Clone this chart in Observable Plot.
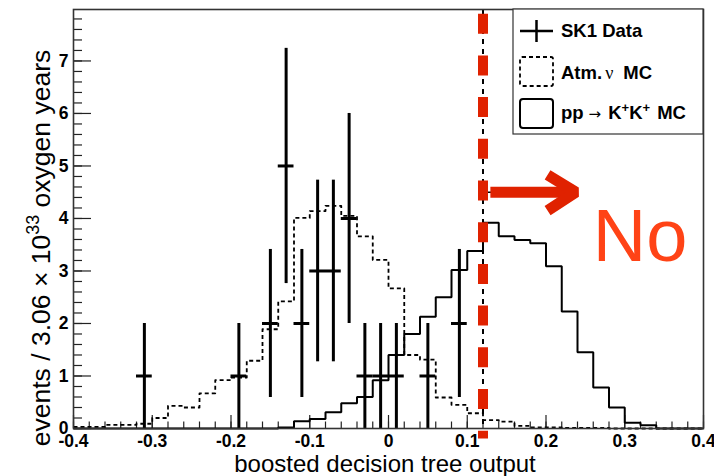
<!DOCTYPE html>
<html>
<head>
<meta charset="utf-8">
<script src="https://cdn.jsdelivr.net/npm/d3@7"></script>
<script src="https://cdn.jsdelivr.net/npm/@observablehq/plot@0.6"></script>
<style>
  body { margin: 0; background: #fff; }
  #chart svg { display: block; }
</style>
</head>
<body>
<div id="chart"></div>
<script>
// ---- binning of the histograms (40 bins of 0.02 from -0.4 to 0.4)
const binLow = -0.4;
const binWidth = 0.02;

// Atm. nu MC (dashed histogram), one value per bin
const atmMC = [0.03, 0.03, 0.07, 0.07, 0.09, 0.20, 0.43, 0.40, 0.67, 0.92,
               0.97, 1.29, 1.89, 2.42, 4.01, 4.14, 4.24, 4.05, 3.66, 3.21,
               2.67, 1.40, 1.31, 0.59, 0.45, 0.29, 0.16, 0.13, 0.05, 0.02,
               0.02, 0.01, 0.01, 0.01, 0.0, 0.0, 0.0, 0.0, 0.0, 0.0];

// pp -> K+K+ MC (solid histogram), one value per bin
const ppKKMC = [0, 0, 0, 0, 0, 0, 0, 0, 0, 0,
                0, 0, 0, 0.02, 0.14, 0.18, 0.31, 0.48, 0.60, 0.92,
                1.40, 1.80, 2.13, 2.50, 3.02, 3.38, 3.92, 3.66, 3.59, 3.53,
                3.09, 2.23, 1.45, 0.78, 0.40, 0.11, 0.06, 0, 0, 0];

// SK1 data points
const dataX   = [-0.31, -0.19, -0.15, -0.13, -0.11, -0.09, -0.07, -0.05, -0.03, -0.01, 0.01, 0.05, 0.09];
const dataY   = [1, 1, 2, 5, 2, 3, 3, 4, 1, 1, 1, 1, 2];
const dataErr = [1, 1, 1.41, 2.24, 1.41, 1.73, 1.73, 2, 1, 1, 1, 1, 1.41];

// axes
const xTicks = [-0.4, -0.3, -0.2, -0.1, 0, 0.1, 0.2, 0.3, 0.4];
const yTicks = [0, 1, 2, 3, 4, 5, 6, 7];
const xDomain = [-0.4, 0.4];
const yDomain = [0, 7.98];

// annotation: cut value and arrow
const cutValue = 0.12;
const arrowY = 4.5;
const arrowShaft = [0.13, 0.236];
const arrowHead = [{x: 0.202, y: 4.83}, {x: 0.238, y: 4.5}, {x: 0.202, y: 4.15}];
const noLabel = {x: 0.2595, y: 3.194, text: "No"};

// ---- derived tables
const edges = d3.range(atmMC.length + 1).map(i => +(binLow + i * binWidth).toFixed(2));
const stepTable = vals => edges.map((x, i) => ({x, y: vals[Math.min(i, vals.length - 1)]}));
const points = dataX.map((x, i) => ({x, y: dataY[i], err: dataErr[i]}));
const xMinor = edges;
const yMinor = d3.range(0, 40).map(i => +(i * 0.2).toFixed(1));
const fmt = d => String(+(+d).toFixed(1));

const red = "#e02200";
const font = "Liberation Sans, Arial, Helvetica, sans-serif";

const plot = Plot.plot({
  width: 714,
  height: 476,
  marginLeft: 73,
  marginRight: 11,
  marginTop: 9,
  marginBottom: 48,
  x: {domain: xDomain},
  y: {domain: yDomain},
  style: {fontFamily: font, fontSize: "17px", fontWeight: "bold", color: "#000", background: "#fff"},
  marks: [
    // minor / major ticks pointing inward
    Plot.axisX({ticks: xMinor, tickSize: -6.5, tickFormat: () => "", label: null, stroke: "#222", strokeWidth: 1.2}),
    Plot.axisX({ticks: xTicks, tickSize: -13, tickPadding: 19.5, tickFormat: fmt, label: null, stroke: "#222", strokeWidth: 1.2, fontWeight: "bold", fontSize: 17.5}),
    Plot.axisY({ticks: yMinor, tickSize: -9, tickFormat: () => "", label: null, stroke: "#222", strokeWidth: 1.2}),
    Plot.axisY({ticks: yTicks, tickSize: -18, tickPadding: 23, tickFormat: fmt, label: null, stroke: "#222", strokeWidth: 1.2, fontWeight: "bold", fontSize: 17.5}),
    // histograms
    Plot.line(stepTable(atmMC), {x: "x", y: "y", curve: "step-after", stroke: "#000", strokeWidth: 1.8, strokeDasharray: "4,3", strokeLinecap: "butt"}),
    Plot.line(stepTable(ppKKMC), {x: "x", y: "y", curve: "step-after", stroke: "#000", strokeWidth: 2, strokeLinejoin: "miter", strokeLinecap: "butt"}),
    // data
    Plot.ruleX(points, {x: "x", y1: d => Math.max(0, d.y - d.err), y2: d => d.y + d.err, stroke: "#000", strokeWidth: 3}),
    Plot.ruleY(points, {y: "y", x1: d => d.x - binWidth / 2, x2: d => d.x + binWidth / 2, stroke: "#000", strokeWidth: 3}),
    // cut line
    Plot.ruleX([cutValue], {x: d => d, y1: yDomain[1], y2: 0, stroke: "#000", strokeWidth: 2, strokeDasharray: "5,5"}),
    Plot.arrow([cutValue], {x1: d => d, x2: 0.213, y1: arrowY, y2: arrowY, stroke: "#000", strokeWidth: 1.5, headLength: 8}),
    Plot.ruleX([cutValue], {x: d => d, y1: yDomain[1], y2: -0.2, stroke: red, strokeWidth: 10, strokeDasharray: "20,21.7", strokeDashoffset: 37}),
    // red arrow
    Plot.ruleY([arrowY], {y: d => d, x1: arrowShaft[0], x2: arrowShaft[1], stroke: red, strokeWidth: 11}),
    Plot.line(arrowHead, {x: "x", y: "y", stroke: red, strokeWidth: 11, strokeLinejoin: "miter", strokeLinecap: "butt"}),
    // "No"
    Plot.text([noLabel], {x: "x", y: "y", text: "text", fill: "#ff4316", fontSize: 74, fontWeight: "normal", textAnchor: "start", lineAnchor: "bottom", fontFamily: font}),
    Plot.frame({stroke: "#333", strokeWidth: 1.6})
  ]
});

document.getElementById("chart").appendChild(plot);

// ---- titles and legend
const svg = d3.select(plot);
const fx = plot.scale("x"), fy = plot.scale("y");
const frameRight = fx.apply(xDomain[1]);
const frameTop = fy.apply(yDomain[1]);
const frameLeft = fx.apply(xDomain[0]);

// x title
svg.append("text")
  .attr("x", (frameLeft + frameRight) / 2 - 3)
  .attr("y", 472)
  .attr("text-anchor", "middle")
  .attr("font-family", font)
  .attr("font-size", 24)
  .attr("font-weight", "normal")
  .attr("fill", "#000")
  .text("boosted decision tree output");

// y title
const yt = svg.append("text")
  .attr("transform", `translate(50,248) rotate(-90)`)
  .attr("text-anchor", "middle")
  .attr("font-family", font)
  .attr("font-size", 26.5)
  .attr("font-weight", "normal")
  .attr("fill", "#000");
yt.append("tspan").text("events / 3.06 \u00d7 10");
yt.append("tspan").attr("dy", -11).attr("font-size", 18).text("33");
yt.append("tspan").attr("dy", 11).text(" oxygen years");

// legend
const lg = svg.append("g").attr("font-family", font).attr("text-anchor", "start");
const lw = 190, lh = 125;
const lx = frameRight - lw, ly = frameTop;
lg.append("rect").attr("x", lx).attr("y", ly).attr("width", lw).attr("height", lh)
  .attr("fill", "#fff").attr("stroke", "#333").attr("stroke-width", 1.2);
const sx = lx + 7, sw = 33, tx = lx + 48;
// SK1 data
lg.append("line").attr("x1", sx).attr("x2", sx + sw).attr("y1", ly + 22).attr("y2", ly + 22).attr("stroke", "#000").attr("stroke-width", 2.5);
lg.append("line").attr("x1", sx + sw / 2).attr("x2", sx + sw / 2).attr("y1", ly + 11).attr("y2", ly + 33).attr("stroke", "#000").attr("stroke-width", 2.5);
lg.append("text").attr("x", tx).attr("y", ly + 27.5).attr("text-anchor", "start").attr("font-size", 18.5).attr("font-weight", "bold").text("SK1 Data");
// Atm nu MC
lg.append("rect").attr("x", sx).attr("y", ly + 48).attr("width", sw).attr("height", 29).attr("rx", 2)
  .attr("fill", "none").attr("stroke", "#000").attr("stroke-width", 1.8).attr("stroke-dasharray", "4,3");
const t2 = lg.append("text").attr("x", tx).attr("y", ly + 69.5).attr("text-anchor", "start").attr("font-size", 18.5).attr("font-weight", "bold");
t2.append("tspan").text("Atm.");
t2.append("tspan").attr("dx", 3).attr("font-family", "Liberation Serif, DejaVu Serif, serif").attr("font-weight", "normal").attr("font-size", 18).text("\u03bd");
t2.append("tspan").attr("dx", 10).text("MC");
// pp -> K+K+ MC
lg.append("rect").attr("x", sx).attr("y", ly + 90).attr("width", sw).attr("height", 29).attr("rx", 3)
  .attr("fill", "none").attr("stroke", "#000").attr("stroke-width", 2);
const t3 = lg.append("text").attr("x", tx).attr("y", ly + 109.5).attr("text-anchor", "start").attr("font-size", 18.5).attr("font-weight", "bold");
t3.append("tspan").text("pp");
t3.append("tspan").attr("dx", 5).attr("font-family", "DejaVu Sans, sans-serif").attr("font-weight", "normal").attr("font-size", 15).text("\u2192");
t3.append("tspan").attr("dx", 7).text("K");
t3.append("tspan").attr("dy", -7).attr("font-size", 13).text("+");
t3.append("tspan").attr("dy", 7).text("K");
t3.append("tspan").attr("dy", -7).attr("font-size", 13).text("+");
t3.append("tspan").attr("dy", 7).attr("dx", 7).text("MC");
</script>
</body>
</html>
